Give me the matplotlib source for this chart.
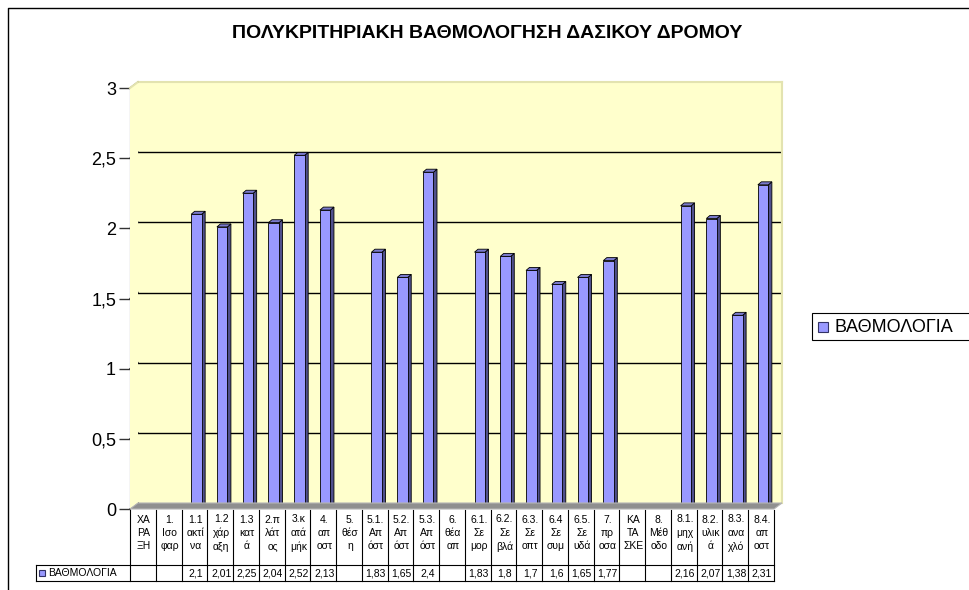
import matplotlib
matplotlib.use("Agg")
import matplotlib.pyplot as plt
from matplotlib.patches import Polygon, Rectangle
from matplotlib.lines import Line2D
import numpy as np

plt.rcParams['font.family'] = ['Liberation Sans', 'DejaVu Sans']

# data
title = "ΠΟΛΥΚΡΙΤΗΡΙΑΚΗ ΒΑΘΜΟΛΟΓΗΣΗ ΔΑΣΙΚΟΥ ΔΡΟΜΟΥ"
series_name = "ΒΑΘΜΟΛΟΓΙΑ"
categories = ["ΧΑ\nΡΑ\nΞΗ", "1.\nΙσο\nφαρ", "1.1\nακτί\nνα", "1.2\nχάρ\nαξη",
              "1.3\nκατ\nά", "2.π\nλάτ\nος", "3.κ\nατά\nμήκ", "4.\nαπ\nοστ",
              "5.\nθέσ\nη", "5.1.\nΑπ\nόστ", "5.2.\nΑπ\nόστ", "5.3.\nΑπ\nόστ",
              "6.\nθέα\nαπ", "6.1.\nΣε\nμορ", "6.2.\nΣε\nβλά", "6.3.\nΣε\nοπτ",
              "6.4\nΣε\nσυμ", "6.5.\nΣε\nυδά", "7.\nπρ\nοσα", "ΚΑ\nΤΑ\nΣΚΕ",
              "8.\nΜέθ\nοδο", "8.1.\nμηχ\nανή", "8.2.\nυλικ\nά", "8.3.\nανα\nχλό",
              "8.4.\nαπ\nοστ"]
values = [None, None, 2.1, 2.01, 2.25, 2.04, 2.52, 2.13, None, 1.83, 1.65, 2.4,
          None, 1.83, 1.8, 1.7, 1.6, 1.65, 1.77, None, None, 2.16, 2.07, 1.38, 2.31]
yticks = [0, 0.5, 1, 1.5, 2, 2.5, 3]

# layout in pixels (top-left origin)
W, H = 970, 590
L, R, B, T = 130, 774, 509, 88
DX, DY = 8, 6
n = len(categories)
px_x = (R - L) / n
px_y = (B - T) / 3.0

FRONT = '#9999FF'
SIDE = '#50508C'
TOP = '#7A7ACC'
WALL = '#FFFFCC'


def frect(l, t, r, b):
    return [l / W, 1 - b / H, (r - l) / W, (b - t) / H]


def fp(x, y):
    return (x / W, 1 - y / H)


fig = plt.figure(figsize=(W / 100, H / 100), dpi=100)

# outer border
fig.add_artist(Line2D([fp(8, 600)[0], fp(8, 8)[0], fp(990, 8)[0]],
                      [fp(8, 600)[1], fp(8, 8)[1], fp(990, 8)[1]],
                      transform=fig.transFigure, color='black', lw=1))

fig.text(fp(487, 33)[0], fp(487, 33)[1], title, ha='center', va='center',
         fontsize=14, fontweight='bold')

# back wall
wall = fig.add_axes(frect(L + DX, T - DY, R + DX, B - DY))
wall.set_facecolor(WALL)
wall.set_xlim(-0.5, n - 0.5)
wall.set_ylim(0, 3)
wall.set_xticks([])
wall.set_yticks([])
for s in ['left', 'bottom']:
    wall.spines[s].set_visible(False)
for s in ['top', 'right']:
    wall.spines[s].set_color('#E3E3B0')
    wall.spines[s].set_linewidth(1.5)
for v in yticks[1:-1]:
    wall.axhline(v, color='black', lw=1)

# side wall + floor
fig.add_artist(Polygon([fp(L, T), fp(L + DX, T - DY), fp(L + DX, B - DY), fp(L, B)],
                       closed=True, transform=fig.transFigure, fc=WALL, ec='none'))
fig.add_artist(Line2D([fp(L, T)[0], fp(L + DX, T - DY)[0]], [fp(L, T)[1], fp(L + DX, T - DY)[1]],
                      transform=fig.transFigure, color='#E3E3B0', lw=1.5))
fig.add_artist(Polygon([fp(L, B), fp(L + DX, B - DY), fp(R + DX, B - DY), fp(R, B)],
                       closed=True, transform=fig.transFigure, fc='#8F8F8F', ec='#B5B5B5', lw=0.8))

# front axes
ax = fig.add_axes(frect(L, T, R, B))
ax.patch.set_visible(False)
ax.set_xlim(-0.5, n - 0.5)
ax.set_ylim(0, 3)
for s in ['top', 'right', 'bottom']:
    ax.spines[s].set_visible(False)
ax.spines['left'].set_color('#555555')
ax.set_xticks([])
ax.set_yticks(yticks)
ax.set_yticklabels([('%g' % v).replace('.', ',') for v in yticks], fontsize=13)
ax.tick_params(axis='y', length=8, width=1, color='#333333', pad=2)

for v in yticks:
    ax.plot([-0.5, -0.5 + DX / px_x], [v, v + DY / px_y], color='#333333', lw=1,
            clip_on=False)

# 3d columns
bw = 10.5 / px_x
shift = 2 / px_x
sdx = 3.5 / px_x
sdy = 3 / px_y
for i, v in enumerate(values):
    if v is None:
        continue
    x0 = i + shift - bw / 2
    x1 = x0 + bw
    ax.add_patch(Polygon([(x1, 0), (x1 + sdx, sdy), (x1 + sdx, v + sdy), (x1, v)],
                         closed=True, fc=SIDE, ec='black', lw=0.6))
    ax.add_patch(Polygon([(x0, v), (x1, v), (x1 + sdx, v + sdy), (x0 + sdx, v + sdy)],
                         closed=True, fc=TOP, ec='black', lw=0.6))
    ax.add_patch(Rectangle((x0, 0), bw, v, fc=FRONT, ec='black', lw=0.6))

# data table
tab_top, row_mid, tab_bot, key_left = 510, 565, 581, 36
for k in range(n + 1):
    x = L + k * px_x
    fig.add_artist(Line2D([fp(x, tab_top)[0]] * 2, [fp(x, tab_top)[1], fp(x, tab_bot)[1]],
                          transform=fig.transFigure, color='black', lw=0.8))
for y in [row_mid, tab_bot]:
    fig.add_artist(Line2D([fp(key_left, y)[0], fp(R, y)[0]], [fp(0, y)[1]] * 2,
                          transform=fig.transFigure, color='black', lw=0.8))
fig.add_artist(Line2D([fp(key_left, 0)[0]] * 2, [fp(0, row_mid)[1], fp(0, tab_bot)[1]],
                      transform=fig.transFigure, color='black', lw=0.8))

for i, (c, v) in enumerate(zip(categories, values)):
    cx = L + (i + 0.5) * px_x
    fig.text(*fp(cx + 1, 533), c, ha='center', va='center', fontsize=7.5, linespacing=1.4)
    if v is not None:
        fig.text(*fp(cx + 1, 573), ('%g' % v).replace('.', ','), ha='center', va='center',
                 fontsize=7.5)

fig.add_artist(Rectangle(fp(39, 576), 6 / W, 6 / H, transform=fig.transFigure,
                         fc=FRONT, ec='#333366', lw=0.8))
fig.text(*fp(48, 573), series_name, ha='left', va='center', fontsize=7.5)

# legend
fig.add_artist(Rectangle(fp(812, 340), 200 / W, 27 / H, transform=fig.transFigure,
                         fc='white', ec='black', lw=0.8))
fig.add_artist(Rectangle(fp(818, 332), 10 / W, 10 / H, transform=fig.transFigure,
                         fc=FRONT, ec='#333366', lw=0.8))
fig.text(*fp(834, 327), series_name, ha='left', va='center', fontsize=13)

fig.savefig('out.png', dpi=100)
